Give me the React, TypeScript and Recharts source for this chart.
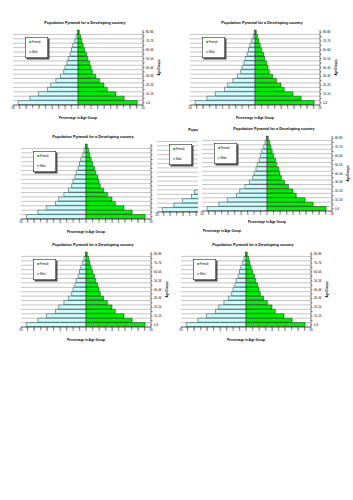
import React from 'react';
import { BarChart, Bar, XAxis, YAxis, CartesianGrid, Legend } from 'recharts';

// age groups from youngest to oldest
const ageGroups = ['0-4', '5-9', '10-14', '15-19', '20-24', '25-29', '30-34', '35-39', '40-44', '45-49', '50-54', '55-59', '60-64', '65-69', '70-74', '75-79', '80-84'];
const malePct = [9.2, 7.4, 6.1, 4.7, 4.2, 3.4, 2.7, 2.2, 2.0, 1.7, 1.5, 1.2, 1.0, 0.8, 0.5, 0.3, 0.1];
const femalePct = [9.1, 7.1, 5.85, 4.5, 4.0, 3.3, 2.7, 2.2, 2.0, 1.8, 1.5, 1.3, 1.0, 0.8, 0.6, 0.4, 0.2];
const xTicks = [-10, -9, -8, -7, -6, -5, -4, -3, -2, -1, 0, 1, 2, 3, 4, 5, 6, 7, 8, 9, 10];
const legendItems = [
  { name: 'Female', color: '#00EE00' },
  { name: 'Male', color: '#CCFFFF' },
];

const rows = ageGroups.map((age, i) => ({ age, male: -malePct[i], female: femalePct[i] }));

const FONT = '"Liberation Sans", Arial, sans-serif';
const PLOT_W = 130;
const PLOT_H = 75;
const W = PLOT_W + 4 + 16 + 6;

const AgeTick = (p: any) => {
  if (p.index % 2 !== 0) return <g />;
  return (
    <text x={p.x} y={p.y} dy={1} fontSize={2.9} fontFamily={FONT} fill="#000" textAnchor="start">
      {p.payload.value}
    </text>
  );
};

const LegendBox = () => (
  <svg width={25} height={23} style={{ display: 'block' }}>
    <rect x={1.5} y={1.5} width={23} height={21} fill="#555" />
    <rect x={0.3} y={0.3} width={22.5} height={20.5} fill="#fff" stroke="#000" strokeWidth={0.5} />
    {legendItems.map((it, i) => (
      <g key={it.name}>
        <rect x={4.5} y={4.2 + i * 10} width={1.6} height={1.6} fill={it.color} stroke="#000" strokeWidth={0.2} />
        <text x={7} y={6 + i * 10} fontSize={2.6} fontFamily={FONT} fill="#000">{it.name}</text>
      </g>
    ))}
  </svg>
);

interface PyramidProps {
  plotLeft: number;
  plotTop: number;
  titleGap?: number;
}

function Pyramid({ plotLeft, plotTop, titleGap = 12 }: PyramidProps) {
  const axisH = titleGap + 4;
  const H = 12 + PLOT_H + axisH;
  return (
    <div style={{ position: 'absolute', left: plotLeft - 4, top: plotTop - 12, width: W, height: H, background: '#fff' }}>
      <BarChart
        width={W}
        height={H}
        data={rows}
        layout="vertical"
        stackOffset="sign"
        barCategoryGap={0}
        margin={{ top: 12, right: 6, bottom: 0, left: 4 }}
      >
        <CartesianGrid
          vertical={false}
          stroke="#8a8a8a"
          strokeWidth={0.5}
          horizontalCoordinatesGenerator={({ offset }: any) =>
            ageGroups.map((_, i) => offset.top + ((i + 1) * offset.height) / ageGroups.length)
          }
        />
        <XAxis
          type="number"
          domain={[-10, 10]}
          ticks={xTicks}
          interval={0}
          tickFormatter={(v: number) => String(Math.abs(v))}
          tick={{ fontSize: 3, fill: '#000', fontFamily: FONT }}
          tickSize={1.5}
          tickMargin={0.5}
          height={axisH}
          stroke="#000"
          strokeWidth={0.5}
          label={{ value: 'Percentage in Age Group', position: 'insideBottom', offset: 2, fontSize: 3.2, fontWeight: 'bold', fill: '#000', fontFamily: FONT }}
        />
        <YAxis
          type="category"
          dataKey="age"
          orientation="right"
          reversed
          width={16}
          interval={0}
          tick={AgeTick}
          tickSize={1.5}
          tickMargin={1.5}
          stroke="#000"
          strokeWidth={0.5}
          label={{
            position: 'center',
            content: (p: any) => {
              const vb = p.viewBox;
              const cx = vb.x + vb.width;
              const cy = vb.y + vb.height / 2;
              return (
                <text x={cx} y={cy} transform={`rotate(-90 ${cx} ${cy})`} textAnchor="middle" dominantBaseline="central" fontSize={2.8} fontWeight="bold" fontFamily={FONT} fill="#000">
                  Age Groups
                </text>
              );
            },
          }}
        />
        <Legend
          layout="vertical"
          align="center"
          verticalAlign="middle"
          content={() => <LegendBox />}
          wrapperStyle={{ left: 4 + 12, top: 12 + 7, width: 25, height: 23 }}
        />
        <Bar dataKey="male" name="Male" stackId="a" fill="#CCFFFF" stroke="#000" strokeWidth={0.4} isAnimationActive={false} />
        <Bar dataKey="female" name="Female" stackId="a" fill="#00EE00" stroke="#000" strokeWidth={0.4} isAnimationActive={false} />
      </BarChart>
      <svg width={W} height={12} style={{ position: 'absolute', left: 0, top: 0 }}>
        <text x={4 + PLOT_W / 2 + 7} y={5.5} textAnchor="middle" fontSize={3.8} fontWeight="bold" fontFamily={FONT} fill="#000">
          Population Pyramid for a Developing country
        </text>
      </svg>
    </div>
  );
}

export default function App() {
  return (
    <div style={{ position: 'absolute', left: 0, top: 0, width: 353, height: 500, background: '#fff', overflow: 'hidden' }}>
      <Pyramid plotLeft={13} plotTop={30} />
      <Pyramid plotLeft={190} plotTop={30} />
      <Pyramid plotLeft={21} plotTop={144} />
      <Pyramid plotLeft={157} plotTop={137} titleGap={18} />
      <Pyramid plotLeft={202} plotTop={136} titleGap={10} />
      <Pyramid plotLeft={21} plotTop={252} />
      <Pyramid plotLeft={181} plotTop={252} />
    </div>
  );
}
